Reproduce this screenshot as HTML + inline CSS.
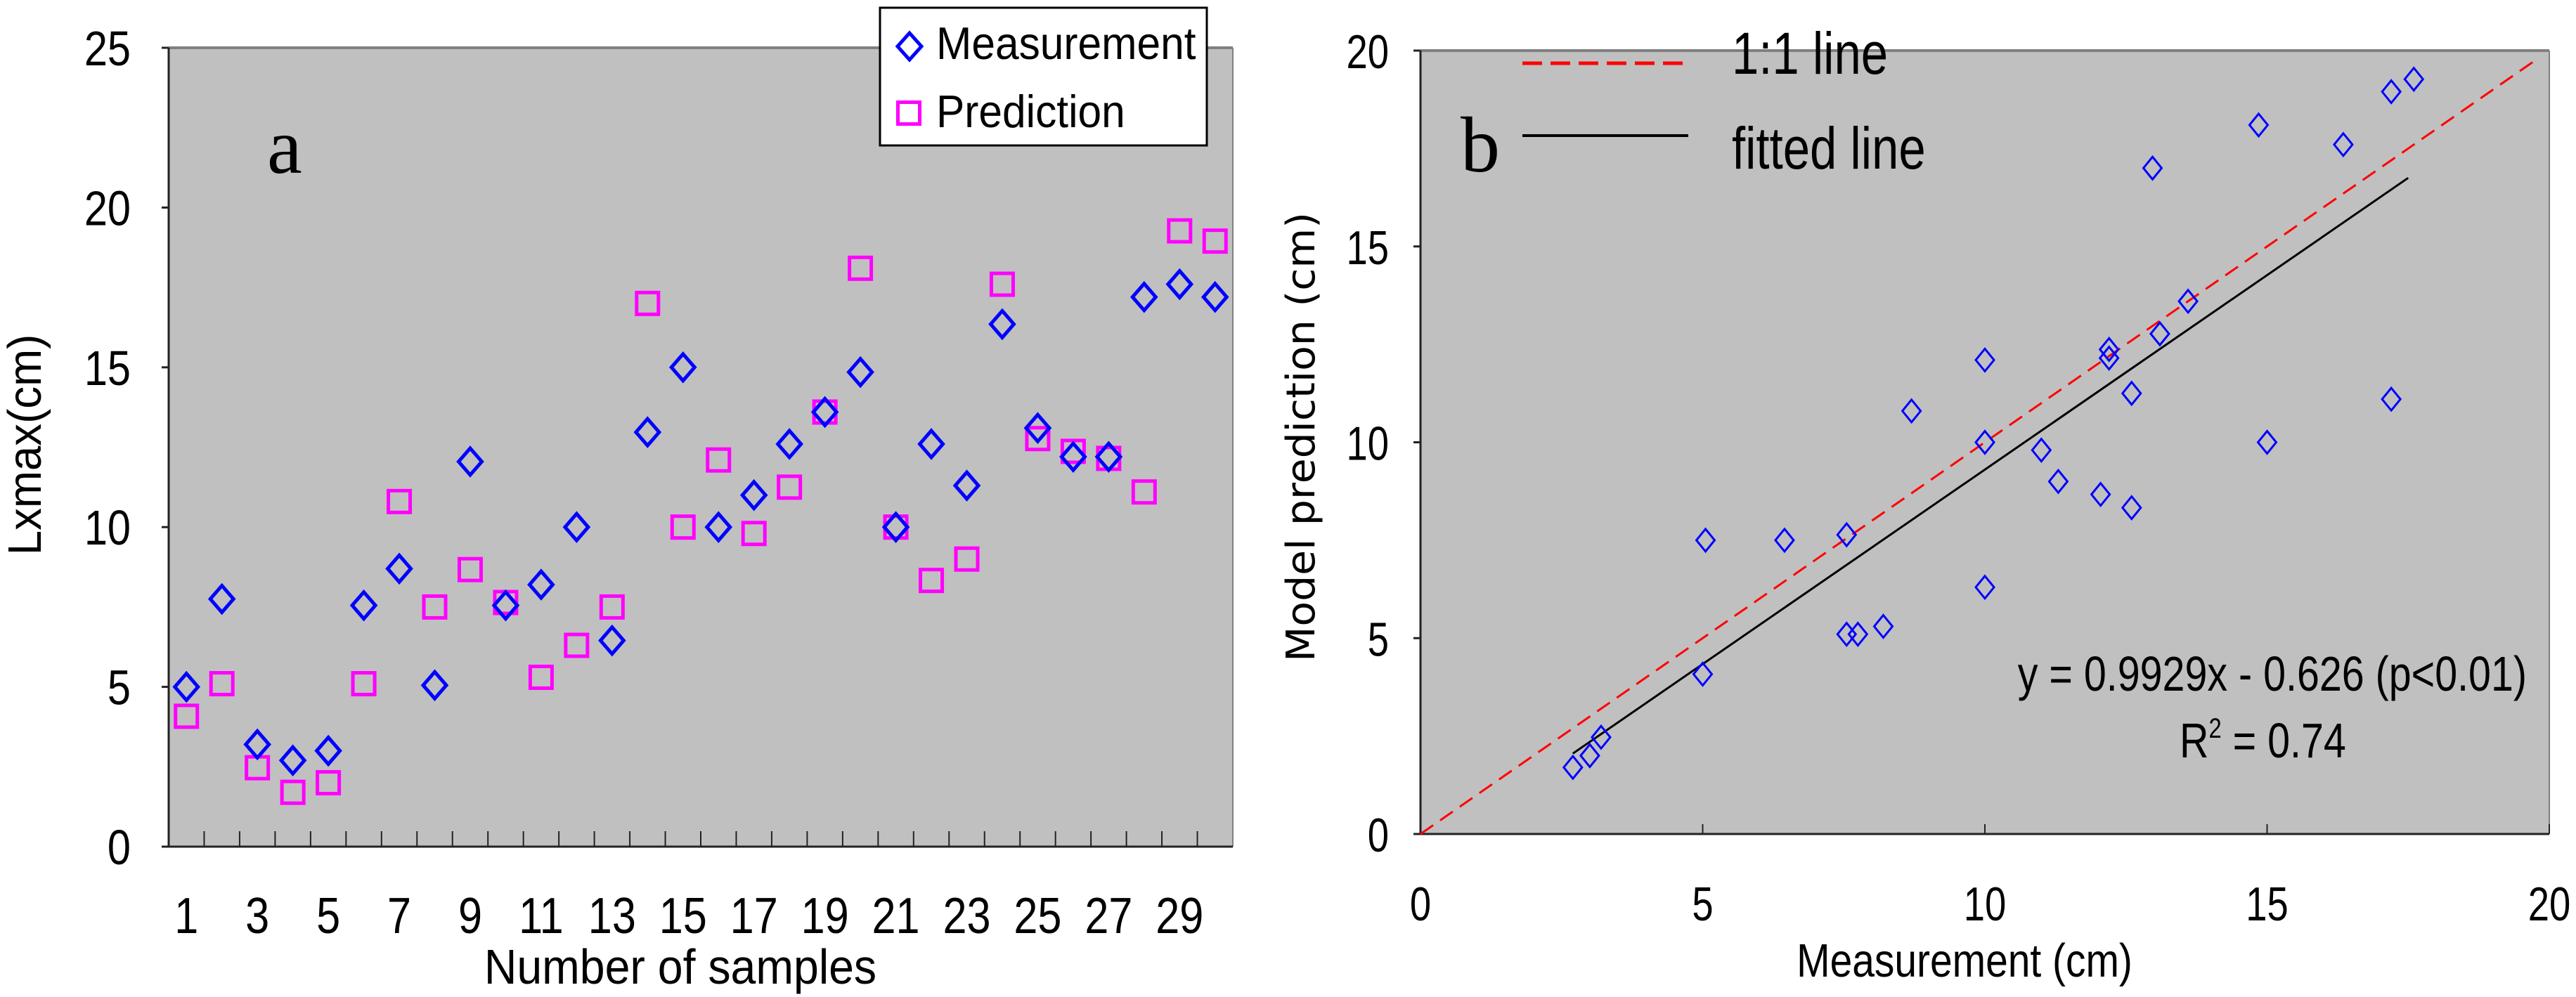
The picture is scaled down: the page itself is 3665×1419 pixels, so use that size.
<!DOCTYPE html>
<html><head><meta charset="utf-8"><style>
html,body{margin:0;padding:0;background:#fff;}
svg{display:block;font-family:"Liberation Sans",sans-serif;}
</style></head><body>
<svg id="fig" width="3665" height="1419" viewBox="0 0 3665 1419" xmlns="http://www.w3.org/2000/svg"></svg>
<script>
// ---- data ----
const sampleIds = [1,2,3,4,5,6,7,8,9,10,11,12,13,14,15,16,17,18,19,20,21,22,23,24,25,26,27,28,29,30];
const measurement = [5.0,7.75,3.2,2.7,3.0,7.55,8.7,5.05,12.05,7.55,8.2,10.0,6.45,12.97,15.0,10.0,11.0,12.6,13.6,14.85,10.0,12.6,11.3,16.35,13.1,12.2,12.2,17.2,17.6,17.2];
const prediction = [4.08,5.1,2.47,1.7,2.0,5.1,10.8,7.5,8.67,7.64,5.3,6.3,7.5,17.0,10.0,12.1,9.8,11.25,13.6,18.1,10.0,8.33,9.0,17.6,12.77,12.37,12.15,11.1,19.27,18.95];
const yTicksA = [0,5,10,15,20,25];
const xTickLabelsA = [1,3,5,7,9,11,13,15,17,19,21,23,25,27,29];
const axisTicksB = [0,5,10,15,20];
const fitSlope = 0.9929;
const fitIntercept = -0.626;
const fitRange = [2.7,17.5];

const NS = "http://www.w3.org/2000/svg";
const svg = document.getElementById('fig');
function el(tag, attrs, parent){
  const e = document.createElementNS(NS, tag);
  for (const k in attrs) e.setAttribute(k, attrs[k]);
  (parent||svg).appendChild(e);
  return e;
}
function txt(x,y,s,size,anchor,sx,parent,fam){
  const t = el('text',{transform:`translate(${x},${y}) scale(${sx},1)`,'font-size':size,'text-anchor':anchor||'start',fill:'#000','font-family':fam||'"Liberation Sans",sans-serif'},parent);
  t.textContent = s;
  return t;
}
function diamond(cx,cy,w,h,sw,parent){
  return el('polygon',{points:`${cx},${cy-h/2} ${cx+w/2},${cy} ${cx},${cy+h/2} ${cx-w/2},${cy}`,fill:'none',stroke:'#0000ff','stroke-width':sw},parent);
}
function square(cx,cy,s,parent){
  return el('rect',{x:cx-s/2,y:cy-s/2,width:s,height:s,fill:'none',stroke:'#ff00ff','stroke-width':5},parent);
}

// ---- Chart A ----
const A = {l:240,r:1754,t:68,b:1205};
const xA = i => A.l + (A.r-A.l)/30*(i-0.5);
const yA = v => A.b - (A.b-A.t)*v/25;
const gA = el('g',{});


const bgA = el('rect',{x:A.l,y:A.t,width:A.r-A.l,height:A.b-A.t,fill:'#c0c0c0'},gA);


el('line',{x1:A.l,y1:A.t,x2:A.r,y2:A.t,stroke:'#808080','stroke-width':4},gA);
el('line',{x1:A.r,y1:A.t,x2:A.r,y2:A.b,stroke:'#808080','stroke-width':2},gA);
el('line',{x1:A.l,y1:A.t,x2:A.l,y2:A.b,stroke:'#222','stroke-width':3},gA);
el('line',{x1:A.l,y1:A.b,x2:A.r,y2:A.b,stroke:'#222','stroke-width':3},gA);
for (let k=1;k<30;k++){
  const x = A.l+(A.r-A.l)/30*k;
  el('line',{x1:x,y1:A.b,x2:x,y2:A.b-22,stroke:'#222','stroke-width':2},gA);
}
yTicksA.forEach(v=>{
  el('line',{x1:A.l-10,y1:yA(v),x2:A.l,y2:yA(v),stroke:'#222','stroke-width':3},gA);
  const t = txt(186,yA(v)+25,String(v),70,'end',0.85,gA);
  
  
});
xTickLabelsA.forEach(v=>{
  const t = txt(xA(v),1328,String(v),72,'middle',0.85,gA);
  
  
});
const xtA = txt(968,1400,'Number of samples',70,'middle',0.92,gA);


const ytA = el('text',{transform:'translate(58,633) rotate(-90) scale(0.95,1)','font-size':67,'text-anchor':'middle',fill:'#000'},gA);
ytA.textContent = 'Lxmax(cm)';


const la = txt(380,246,'a',112,'start',1,gA,'"Liberation Serif",serif');


sampleIds.forEach((id,i)=>{
  const s = square(xA(id),yA(prediction[i]),31,gA);
  
  
});
sampleIds.forEach((id,i)=>{
  const d = diamond(xA(id),yA(measurement[i]),33,38,5,gA);
  
  
});
// legend
const lg = el('g',{},gA);


el('rect',{x:1252,y:11,width:465,height:196,fill:'#fff',stroke:'#000','stroke-width':3},lg);
const ld = diamond(1294,66,34,38,5,lg);


const lt1 = txt(1332,84,'Measurement',65,'start',0.93,lg);


const ls = square(1293,161,31,lg);


const lt2 = txt(1332,181,'Prediction',65,'start',0.93,lg);



// ---- Chart B ----
const B = {l:2021,r:3627,t:72,b:1187};
const xB = v => B.l + (B.r-B.l)*v/20;
const yB = v => B.b - (B.b-B.t)*v/20;
const gB = el('g',{});


const bgB = el('rect',{x:B.l,y:B.t,width:B.r-B.l,height:B.b-B.t,fill:'#c0c0c0'},gB);


el('line',{x1:B.l,y1:B.t,x2:B.r,y2:B.t,stroke:'#808080','stroke-width':4},gB);
el('line',{x1:B.r,y1:B.t,x2:B.r,y2:B.b,stroke:'#808080','stroke-width':2},gB);
el('line',{x1:B.l,y1:B.t,x2:B.l,y2:B.b,stroke:'#222','stroke-width':3},gB);
el('line',{x1:B.l,y1:B.b,x2:B.r,y2:B.b,stroke:'#222','stroke-width':3},gB);
axisTicksB.forEach(v=>{
  el('line',{x1:xB(v),y1:B.b,x2:xB(v),y2:B.b-14,stroke:'#222','stroke-width':2},gB);
  el('line',{x1:B.l-10,y1:yB(v),x2:B.l,y2:yB(v),stroke:'#222','stroke-width':3},gB);
  const tx = txt(xB(v),1310,String(v),68,'middle',0.8,gB);
  
  
  const ty = txt(1976,yB(v)+25,String(v),68,'end',0.8,gB);
  
  
});
const xtB = txt(2795,1390,'Measurement (cm)',67,'middle',0.85,gB);


const ytB = el('text',{transform:'translate(1870,622) rotate(-90)','font-size':56,'text-anchor':'middle',fill:'#000','font-family':'"DejaVu Sans",sans-serif','textLength':640,'lengthAdjust':'spacingAndGlyphs'},gB);
ytB.textContent = 'Model prediction (cm)';


// 1:1 line
const oneLine = el('line',{x1:xB(0),y1:yB(0),x2:xB(19.8),y2:yB(19.8),stroke:'#ff0000','stroke-width':3,'stroke-dasharray':'22,12'},gB);


const fit = el('line',{x1:xB(fitRange[0]),y1:yB(fitSlope*fitRange[0]+fitIntercept),x2:xB(fitRange[1]),y2:yB(fitSlope*fitRange[1]+fitIntercept),stroke:'#000','stroke-width':3},gB);


measurement.forEach((m,i)=>{
  const d = diamond(xB(m),yB(prediction[i]),26,32,3,gB);
  
  
});
// legend b
const lgb = el('g',{},gB);


el('line',{x1:2166,y1:90,x2:2402,y2:90,stroke:'#ff0000','stroke-width':5,'stroke-dasharray':'28,12'},lgb);
const lb1 = txt(2464,105,'1:1 line',84,'start',0.82,lgb);


el('line',{x1:2166,y1:193,x2:2402,y2:193,stroke:'#000','stroke-width':4},lgb);
const lb2 = txt(2464,240,'fitted line',84,'start',0.82,lgb);


const lbB = txt(2078,244,'b',112,'start',1,gB,'"Liberation Serif",serif');


const eq = txt(3595,983,'y = 0.9929x - 0.626 (p<0.01)',70,'end',0.82,gB);


const r2 = el('text',{transform:'translate(3101,1078) scale(0.82,1)','font-size':70,fill:'#000'},gB);


r2.innerHTML = 'R<tspan dy="-28" font-size="40">2</tspan><tspan dy="28"> = 0.74</tspan>';
</script>
</body></html>
